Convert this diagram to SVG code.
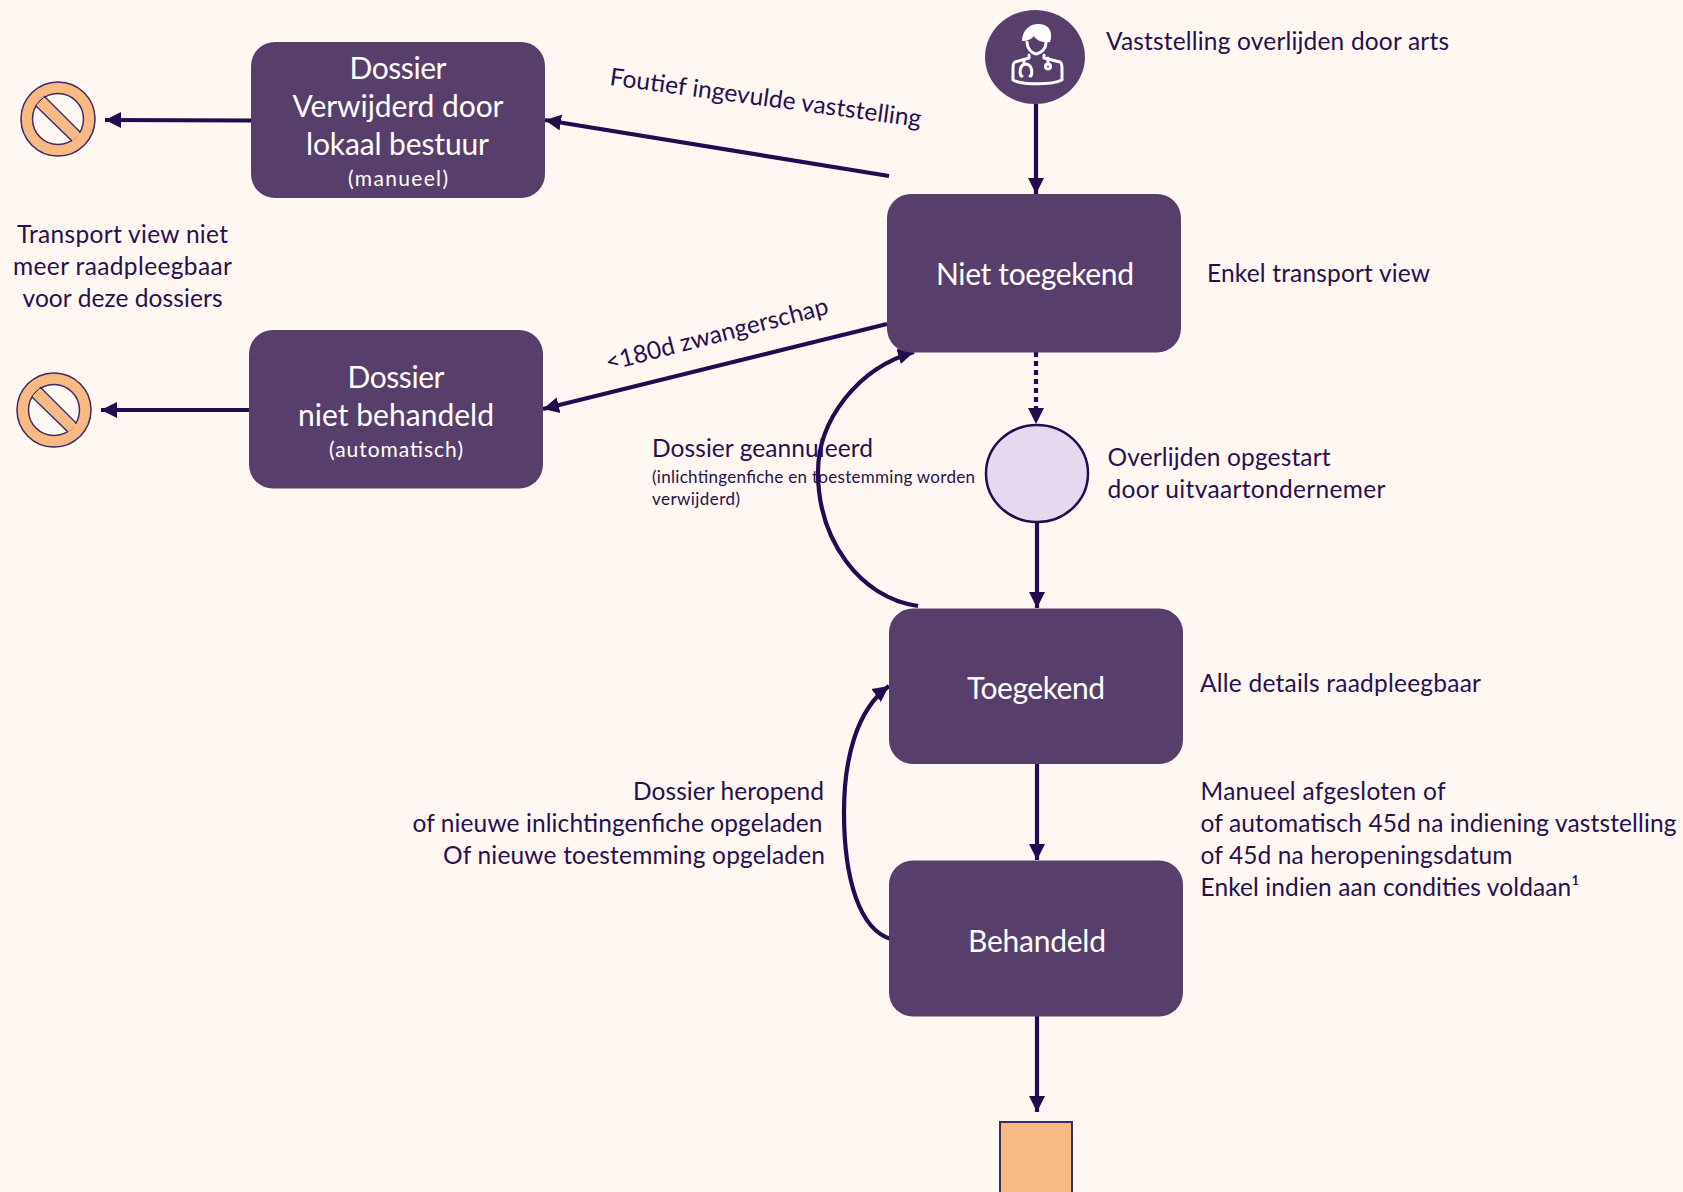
<svg xmlns="http://www.w3.org/2000/svg" width="1683" height="1192" viewBox="0 0 1683 1192">
<style>
.n{fill:#583f6b}
.t{font-family:Lato,"Carlito","Open Sans",sans-serif;fill:#27104e}
.w{font-family:Lato,"Carlito","Open Sans",sans-serif;fill:#fff;text-anchor:middle}
.b{font-size:30px}.s{font-size:21px}.m{font-size:24.5px}.x{font-size:17px}
.c{fill:none;stroke:#240a4e;stroke-width:4.200}
.o{fill:#f8b983;stroke:#3f2a63;stroke-width:2}
.r{fill:none;stroke:#f8b983;stroke-width:12}
.l{fill:none;stroke:#3f2a63;stroke-width:1.500}
.f{fill:#f8b983;stroke:#f8b983}
.i{fill:none;stroke:#fff;stroke-width:3;stroke-linejoin:round;stroke-linecap:round}
</style>
<defs>
<marker id="a" markerUnits="userSpaceOnUse" markerWidth="17" markerHeight="18" refX="16" refY="9" orient="auto"><path d="M0 1L16 9L0 17Z" fill="#240a4e"/></marker>
</defs>
<rect width="1683" height="1192" fill="#fff8f2"/>
<g id="connectors">
<path class="c" d="M1036 104V194" marker-end="url(#a)"/>
<path class="c" d="M889 176L545 120" marker-end="url(#a)"/>
<path class="c" d="M251 120.500L105 120" marker-end="url(#a)"/>
<path class="c" d="M887 324L543 409" marker-end="url(#a)"/>
<path class="c" d="M249 410H101" marker-end="url(#a)"/>
<path class="c" d="M1036 352V424" stroke-dasharray="5 4" marker-end="url(#a)"/>
<path class="c" d="M1037 522V608" marker-end="url(#a)"/>
<path class="c" d="M918 606C860 598 818 540 818 472C818 420 858 368 914 352" marker-end="url(#a)"/>
<path class="c" d="M1037 764V860" marker-end="url(#a)"/>
<path class="c" d="M891 939C860 930 844 880 844 812C844 760 856 710 889 686" marker-end="url(#a)"/>
<path class="c" d="M1037 1016V1112" marker-end="url(#a)"/>
</g>
<g id="start"><ellipse class="n" cx="1035" cy="57" rx="50" ry="47"/>
<path d="M1022 41C1022 30 1030 24 1038 24C1048 24 1052 30 1051 38L1050 42C1042 43 1036 40 1034 36C1032 39 1027 41 1022 41Z" fill="#fff"/>
<path class="i" stroke-width="2.500" d="M1027 42C1027 48 1031 53 1036 54C1042 53 1046 48 1046 42M1029 55V58L1015 62C1013 63 1013 65 1013 68V80C1022 85 1052 85 1062 80V68C1062 65 1062 63 1060 62L1044 58V55"/>
<path class="i" stroke-width="2" d="M1024 60V64M1022 76H1021C1019 72 1020 65 1025 64C1031 64 1033 70 1031 76H1030M1048 58V63"/>
<circle class="i" stroke-width="2" cx="1048" cy="66.500" r="2.500"/></g>
<g id="verwijderd"><rect class="n" x="251" y="42" width="294" height="156" rx="24"/>
<text class="w b" x="398" y="79" textLength="97">Dossier</text><text class="w b" x="398" y="117" textLength="211">Verwijderd door</text><text class="w b" x="397.500" y="155" textLength="183">lokaal bestuur</text><text class="w s" x="398" y="186" textLength="100">(manueel)</text></g>
<g id="niet-toegekend"><rect class="n" x="887" y="194" width="294" height="158.500" rx="24"/><text class="w b" x="1035" y="285" textLength="198">Niet toegekend</text></g>
<g id="niet-behandeld"><rect class="n" x="249" y="330" width="294" height="158.500" rx="24"/>
<text class="w b" x="396" y="387.500" textLength="97">Dossier</text><text class="w b" x="396" y="425.500" textLength="196">niet behandeld</text><text class="w s" x="396" y="457" textLength="134">(automatisch)</text></g>
<g id="toegekend"><rect class="n" x="889" y="608.500" width="294" height="155.500" rx="24"/><text class="w b" x="1036" y="699" textLength="138">Toegekend</text></g>
<g id="behandeld"><rect class="n" x="889" y="860.500" width="294" height="156" rx="24"/><text class="w b" x="1037" y="951.500" textLength="138">Behandeld</text></g>
<g id="opgestart"><ellipse cx="1037" cy="473.500" rx="51" ry="48.500" fill="#e5d9ef" stroke="#240a4e" stroke-width="2.500"/></g>
<g id="stop1"><circle class="r" cx="58" cy="119" r="31.500"/><circle class="l" cx="58" cy="119" r="37"/><circle class="l" cx="58" cy="119" r="25.500"/><path class="f" d="M37 105L44 98L80 134L72 141Z"/><path class="l" d="M36 106L72 141M44 96L80 132"/></g>
<g id="stop2"><circle class="r" cx="54" cy="410" r="31.500"/><circle class="l" cx="54" cy="410" r="37"/><circle class="l" cx="54" cy="410" r="25.500"/><path class="f" d="M33 396L40 389L76 425L68 432Z"/><path class="l" d="M32 397L68 432M40 387L76 423"/></g>
<g id="end"><rect class="o" x="1000" y="1122" width="72" height="74"/></g>
<g id="labels">
<text class="t m" x="1106" y="50" textLength="343">Vaststelling overlijden door arts</text>
<text class="t m" x="1207" y="282" textLength="223">Enkel transport view</text>
<text class="t m" x="1107.500" y="466" textLength="223">Overlijden opgestart</text>
<text class="t m" x="1107.500" y="498" textLength="278">door uitvaartondernemer</text>
<text class="t m" x="1200" y="692" textLength="281">Alle details raadpleegbaar</text>
<text class="t m" x="1200.500" y="800" textLength="245">Manueel afgesloten of</text>
<text class="t m" x="1200.500" y="832" textLength="476">of automatisch 45d na indiening vaststelling</text>
<text class="t m" x="1200.500" y="864" textLength="312">of 45d na heropeningsdatum</text>
<text class="t m" x="1200.500" y="896" textLength="379">Enkel indien aan condities voldaan¹</text>
<text class="t m" x="824" y="800" text-anchor="end" textLength="191">Dossier heropend</text>
<text class="t m" x="822.500" y="832" text-anchor="end" textLength="410">of nieuwe inlichtingenfiche opgeladen</text>
<text class="t m" x="825" y="864" text-anchor="end" textLength="382">Of nieuwe toestemming opgeladen</text>
<text class="t m" x="652" y="457" textLength="221">Dossier geannuleerd</text>
<text class="t x" x="652" y="483" textLength="323">(inlichtingenfiche en toestemming worden</text>
<text class="t x" x="652" y="505" textLength="88">verwijderd)</text>
<text class="t m" x="122.500" y="243" text-anchor="middle" textLength="211">Transport view niet</text>
<text class="t m" x="122.500" y="275" text-anchor="middle" textLength="219">meer raadpleegbaar</text>
<text class="t m" x="122.500" y="307" text-anchor="middle" textLength="200">voor deze dossiers</text>
<text class="t m" transform="translate(609 85) rotate(7.700)" textLength="314">Foutief ingevulde vaststelling</text>
<text class="t m" transform="translate(608 371) rotate(-14.500)" textLength="229">&lt;180d zwangerschap</text>
</g>
</svg>
